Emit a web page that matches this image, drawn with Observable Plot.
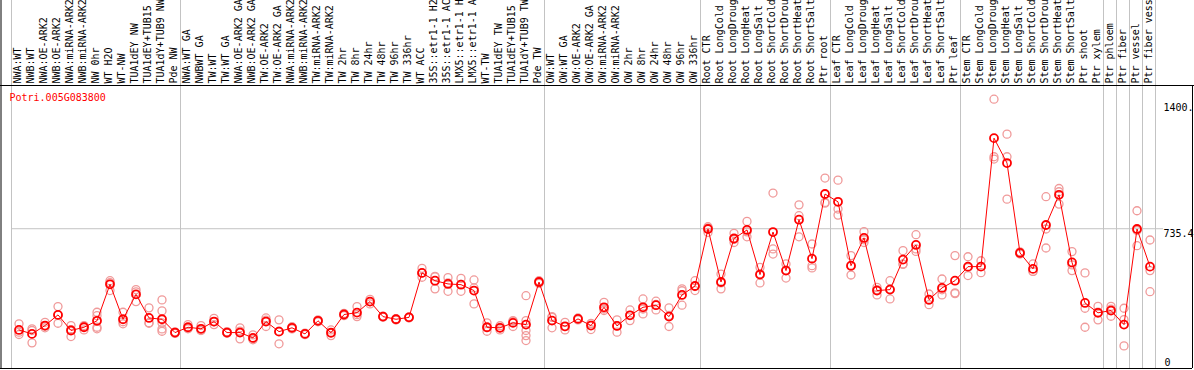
<!DOCTYPE html>
<html><head><meta charset="utf-8">
<script src="https://cdn.jsdelivr.net/npm/d3@7"></script>
<script src="https://cdn.jsdelivr.net/npm/@observablehq/plot@0.6"></script>
<style>
html,body{margin:0;padding:0;background:#fff;overflow:hidden;}
#chart svg{display:block;}
</style></head><body><div id="chart"></div>
<script>
const geneName = "Potri.005G083800";

const labels = [
  "NWA:WT","NWB:WT","NWA:OE-ARK2","NWB:OE-ARK2","NWA:miRNA-ARK2","NWB:miRNA-ARK2","NW 0hr","WT H2O","WT-NW","TUA1dEY NW","TUA1dEY+TUB15","TUA1dY+TUB9 NW","Pde NW",
  "NWA:WT GA","NWBWT GA","TW:WT","TW:WT GA","NWA:OE-ARK2 GA","NWB:OE-ARK2 GA","TW:OE-ARK2","TW:OE-ARK2 GA","NWA:miRNA-ARK2","NWB:miRNA-ARK2","TW:miRNA-ARK2","TW:miRNA-ARK2",
  "TW 2hr","TW 8hr","TW 24hr","TW 48hr","TW 96hr","TW 336hr","WT ACC","35S::etr1-1 H2","35S::etr1-1 AC","LMX5::etr1-1 H","LMX5::etr1-1 A","WT-TW","TUA1dEY TW","TUA1dEY+TUB15","TUA1dY+TUB9 TW","Pde TW",
  "OW:WT","OW:WT GA","OW:OE-ARK2","OW:OE-ARK2 GA","OW:miRNA-ARK2","OW:miRNA-ARK2","OW 2hr","OW 8hr","OW 24hr","OW 48hr","OW 96hr","OW 336hr",
  "Root CTR","Root LongCold","Root LongDroug","Root LongHeat","Root LongSalt","Root ShortCold","Root ShortDrou","Root ShortHeat","Root ShortSalt","Ptr root",
  "Leaf CTR","Leaf LongCold","Leaf LongDroug","Leaf LongHeat","Leaf LongSalt","Leaf ShortCold","Leaf ShortDrou","Leaf ShortHeat","Leaf ShortSalt","Ptr leaf",
  "Stem CTR","Stem LongCold","Stem LongDroug","Stem LongHeat","Stem LongSalt","Stem ShortCold","Stem ShortDrou","Stem ShortHeat","Stem ShortSalt","Ptr shoot","Ptr xylem",
  "Ptr phloem","Ptr fiber","Ptr vessel","Ptr fiber vess"
];

const means = [
  203,182,226,282,200,217,251,443,259,390,266,259,189,
  217,209,247,189,189,161,247,194,214,182,251,188,
  284,294,352,273,259,269,503,462,445,441,410,217,214,240,231,455,
  252,222,261,226,322,224,280,322,333,273,387,434,
  734,455,684,729,494,718,515,783,578,918,
  877,541,687,410,415,573,650,362,424,462,
  536,536,1212,1081,608,524,755,914,558,345,293,
  305,231,734,536
];

const reps = [
  [235,191,179],[209,200,135],[243,214,222],[326,238,282],[226,168,205],[221,203,226],[296,278,217,209],[462,452,410],[296,235,246],[415,352,403],[319,238,241],[361,303,240,208,196],[189,185,193],
  [231,209,212],[226,200,201],[264,231,246],[194,186,187],[214,156,197],[177,151,156],[266,221,254],[256,130,196],[220,208,214],[186,178,182],[256,246,251],[203,173,188],
  [290,278,284],[326,273,283],[364,340,352],[276,270,273],[262,256,259],[272,266,269],[527,480,502],[485,419,482],[478,406,451],[474,406,443],[466,340,424],[240,196,215],[225,203,214],[252,221,247],[383,252,200,147,173],[462,448,455],
  [269,214,273],[243,203,220],[266,256,261],[236,205,237],[348,305,313],[256,191,225],[308,252,280],[366,287,313],[354,308,337],[319,221,279],[419,333,409],[462,410,431],
  [746,716,740],[497,419,450],[711,663,679],[774,693,719],[532,450,499],[923,629,602],[550,476,518],[861,804,693],[655,541,529],[1002,874,870],
  [991,839,807],[594,492,538],[720,663,677],[427,387,415],[462,366,417],[620,550,548],[704,616,629],[392,336,359],[471,387,414],[594,398,394],
  [588,489,531],[567,504,537],[1417,1114,1102],[1233,1114,891],[614,602,608],[550,511,511],[904,734,634],[947,865,930],[615,515,545],[503,317,217],[327,256,296],
  [327,275,312],[317,119,257],[830,646,726],[676,515,404]
];

const groupStarts = [0,13,41,53,63,73,84,85,86,87];
const tickValues = [0, 735.4, 1400];
const tickLabels = ["0", "735.4", "1400."];
const gridValues = [735.4];
const yMax = 1489;

const idx = d3.range(labels.length);
const lastIdx = idx[idx.length - 1];
const repData = reps.flatMap((r, i) => r.map(v => ({i, v})));
const grey = "#c3c3c3";

const chart = Plot.plot({
  width: 1194,
  height: 370,
  marginTop: 85,
  marginBottom: 2,
  marginLeft: 11,
  marginRight: 39,
  style: {fontFamily: '"DejaVu Sans Mono", monospace', fontSize: "10px", background: "white"},
  x: {type: "band", domain: idx, padding: 0, axis: null},
  y: {domain: [0, yMax], axis: null},
  marks: [
    Plot.ruleX(groupStarts, {x: d => d, dx: -6.5, stroke: grey, insetTop: -85}),
    Plot.ruleX([lastIdx], {x: d => d, dx: 6.5, stroke: grey, insetTop: -85}),
    Plot.ruleY(gridValues, {y: d => d, stroke: grey, insetRight: -8}),
    Plot.ruleX([0], {x: d => d, dx: -17, stroke: "black", insetTop: -85}),
    Plot.ruleX([lastIdx], {x: d => d, dx: 43.5, stroke: "black"}),
    Plot.ruleY([yMax], {y: d => d, stroke: "black", insetLeft: -11, insetRight: -39}),
    Plot.ruleY([0], {y: d => d, stroke: "black", insetLeft: -11, insetRight: -37}),
    Plot.text(idx, {x: d => d, text: d => labels[d], frameAnchor: "top", dy: -2, rotate: -90, textAnchor: "start", lineAnchor: "middle", fill: "black"}),
    Plot.text([geneName], {text: d => d, frameAnchor: "top-left", dx: -2, dy: 12, fill: "red", textAnchor: "start", lineAnchor: "middle"}),
    Plot.text(tickValues.filter(v => v > 0), {y: d => d, text: d => tickLabels[tickValues.indexOf(d)], frameAnchor: "right", dx: 8, dy: 1, textAnchor: "start", lineAnchor: "top", fill: "black"}),
    Plot.text(tickValues.filter(v => v === 0), {y: d => d, text: d => tickLabels[tickValues.indexOf(d)], frameAnchor: "right", dx: 9, dy: -6, textAnchor: "start", lineAnchor: "middle", fill: "black"}),
    Plot.dot(repData, {x: "i", y: "v", r: 4, dx: 1, stroke: "#f09a9a", strokeWidth: 1.3, fill: "none"}),
    Plot.line(idx, {x: d => d, y: d => means[d], dx: 1, stroke: "red", strokeWidth: 1}),
    Plot.dot(idx, {x: d => d, y: d => means[d], r: 4, dx: 1, stroke: "red", strokeWidth: 1.8, fill: "none"})
  ]
});
document.getElementById("chart").appendChild(chart);
</script>
</body></html>
